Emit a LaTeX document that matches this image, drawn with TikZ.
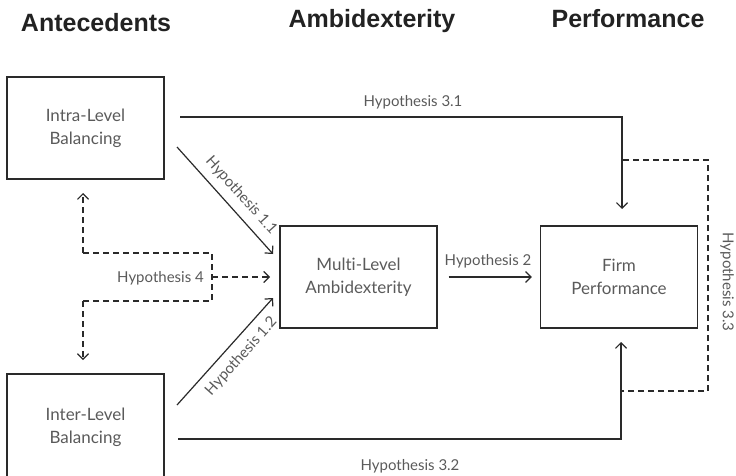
\documentclass[tikz,border=0pt]{standalone}
\usepackage{fontspec}
\setmainfont{Lato}[Ligatures=NoCommon]
\newfontfamily\headfont{Liberation Sans}
\usetikzlibrary{arrows.meta}
\definecolor{linegray}{HTML}{2A2A2A}
\definecolor{textgray}{HTML}{5A5A5A}
\definecolor{headgray}{HTML}{222222}

\begin{document}
\begin{tikzpicture}[x=1pt,y=-1pt,
  box/.style={draw=linegray,line width=1.3pt,minimum width=157pt,minimum height=102pt,
    align=center,text=textgray,font=\fontsize{17}{23}\selectfont,inner sep=0pt},
  head/.style={anchor=base,text=headgray,font=\headfont\bfseries\fontsize{25}{30}\selectfont},
  hyp/.style={text=textgray,font=\fontsize{15}{18}\selectfont,inner sep=0pt},
  arr/.style={draw=linegray,line width=1.2pt,-{Straight Barb[length=5.5pt,width=11pt,line width=1.2pt]}},
  darr/.style={arr,dash pattern=on 6pt off 4pt},
  dln/.style={draw=linegray,line width=1.2pt,dash pattern=on 6pt off 4pt}]
\useasboundingbox (0,0) rectangle (736,476);

\node[head] (hant) at (96,32) {Antecedents};
\node[head] (hamb) at (372,28) {Ambidexterity};
\node[head] (hper) at (628,28) {Performance};

\node[box] (intra) at (85.5,128) {Intra-Level\\Balancing};
\node[box,minimum height=106pt] (inter) at (85.5,427) {Inter-Level\\Balancing};
\node[box] (multi) at (358.5,277) {Multi-Level\\Ambidexterity};
\node[box] (firm) at (619,277) {Firm\\Performance};

\coordinate (h11s) at (177,147);
\coordinate (h11e) at (273,254);
\coordinate (h12s) at (177,405);
\coordinate (h12e) at (273,298);
\coordinate (h31s) at (180,117);
\coordinate (h31e) at (622,209);
\coordinate (h32s) at (178,439);
\coordinate (h32e) at (621,342);
\coordinate (h33a) at (623,160);
\coordinate (h33b) at (708,160);
\coordinate (h33c) at (708,391);
\coordinate (h33d) at (621,391);
\coordinate (h4up) at (83,193);
\coordinate (h4a) at (83,253);
\coordinate (h4b) at (212,253);
\coordinate (h4m) at (212,277);
\coordinate (h4c) at (212,301);
\coordinate (h4d) at (83,301);
\coordinate (h4dn) at (83,360);
\coordinate (h4e) at (270,277);

\draw[arr] (h11s) -- node[hyp,sloped,above=8pt,pos=0.55] (l11) {Hypothesis 1.1} (h11e);
\draw[arr] (h12s) -- node[hyp,sloped,below=8pt,pos=0.55] (l12) {Hypothesis 1.2} (h12e);
\draw[arr,shorten <=11pt,shorten >=8pt] (multi) -- (firm);
\node[hyp,anchor=base] (l2) at (488,265) {Hypothesis 2};
\draw[arr] (h31s) -| (h31e);
\node[hyp,anchor=base] (l31) at (413,107) {Hypothesis 3.1};
\draw[arr] (h32s) -| (h32e);
\node[hyp,anchor=base] (l32) at (410,470) {Hypothesis 3.2};
\draw[dln] (h33a) -- (h33b) -- (h33c) -- (h33d);
\node[hyp,rotate=-90] (l33) at (727,282) {Hypothesis 3.3};
\draw[darr] (h4a) -- (h4up);
\draw[dln] (h4a) -- (h4b) -- (h4c) -- (h4d);
\draw[darr] (h4d) -- (h4dn);
\draw[darr] (h4m) -- (h4e);
\node[hyp,anchor=base east] (l4) at (204,282) {Hypothesis 4};
\end{tikzpicture}
\end{document}
